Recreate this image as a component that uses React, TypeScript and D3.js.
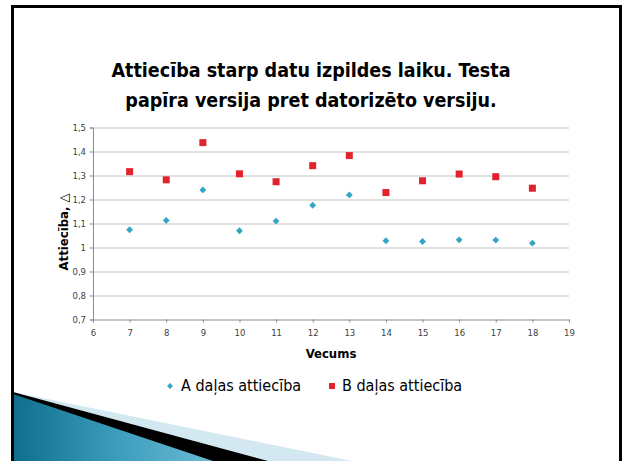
import React, { useEffect, useRef } from 'react';
import * as d3 from 'd3';

// age groups (x) and the two ratio series
const ages = [7, 8, 9, 10, 11, 12, 13, 14, 15, 16, 17, 18];
const seriesA = [1.074, 1.113, 1.24, 1.07, 1.11, 1.176, 1.219, 1.028, 1.025, 1.032, 1.031, 1.018];
const seriesB = [1.316, 1.282, 1.437, 1.307, 1.274, 1.341, 1.383, 1.229, 1.278, 1.306, 1.295, 1.247];
const xTicks = [6, 7, 8, 9, 10, 11, 12, 13, 14, 15, 16, 17, 18, 19];
const yTicks = [0.7, 0.8, 0.9, 1.0, 1.1, 1.2, 1.3, 1.4, 1.5];
const titleLines = ['Attiecība starp datu izpildes laiku. Testa', 'papīra versija pret datorizēto versiju.'];
const legendLabels = ['A daļas attiecība', 'B daļas attiecība'];

const W = 622;
const H = 461;
const margin = { top: 127.5, right: 53, bottom: 141.5, left: 93 };
const blue = '#33a5c6';
const red = '#e2222c';
const font = '"DejaVu Sans Condensed", "DejaVu Sans", sans-serif';

const App: React.FC = () => {
  const svgRef = useRef<SVGSVGElement>(null);

  useEffect(() => {
    if (!svgRef.current) return;
    const svg = d3.select(svgRef.current);
    svg.selectAll('*').remove();

    const innerW = W - margin.left - margin.right;
    const innerH = H - margin.top - margin.bottom;

    svg.append('rect').attr('width', W).attr('height', H).attr('fill', '#fff');

    // bottom-left slide decoration
    const defs = svg.append('defs');
    const grad = defs.append('linearGradient').attr('id', 'teal').attr('x1', '0').attr('x2', '1').attr('y1', '0').attr('y2', '0');
    grad.append('stop').attr('offset', '0%').attr('stop-color', '#0e6f8c');
    grad.append('stop').attr('offset', '55%').attr('stop-color', '#3f9fbe');
    grad.append('stop').attr('offset', '100%').attr('stop-color', '#6cbad3');
    const apex: [number, number] = [13, 392];
    svg.append('polygon').attr('points', [apex, [352, H], [13, H]].join(' ')).attr('fill', '#d3e8f0');
    svg.append('polygon').attr('points', [apex, [268, H], [13, H]].join(' ')).attr('fill', '#000');
    svg.append('polygon').attr('points', [[13, 394], [213, H], [13, H]].join(' ')).attr('fill', 'url(#teal)');

    // slide frame
    svg.append('path')
      .attr('d', `M12.5,${H} V6.5 H620.5 V${H}`)
      .attr('fill', 'none')
      .attr('stroke', '#000')
      .attr('stroke-width', 3);

    // title
    const title = svg.append('text')
      .attr('text-anchor', 'middle')
      .attr('font-family', font)
      .attr('font-weight', 'bold')
      .attr('font-size', 19.5)
      .attr('fill', '#000');
    titleLines.forEach((t, i) => {
      title.append('tspan').attr('x', 311).attr('y', 77 + i * 30).text(t);
    });

    const x = d3.scaleLinear().domain([6, 19]).range([0, innerW]);
    const y = d3.scaleLinear().domain([0.7, 1.5]).range([innerH, 0]);
    const fmt = (v: number) => (Math.abs(v - 1) < 1e-9 ? '1' : d3.format('.1f')(v).replace('.', ','));

    const g = svg.append('g').attr('transform', `translate(${margin.left},${margin.top})`);

    // gridlines
    g.append('g')
      .selectAll('line')
      .data(yTicks.slice(1))
      .enter()
      .append('line')
      .attr('x1', 0)
      .attr('x2', innerW)
      .attr('y1', d => Math.round(y(d)) + 0.5)
      .attr('y2', d => Math.round(y(d)) + 0.5)
      .attr('stroke', '#c4c4c4')
      .attr('stroke-width', 1);

    // axes
    const xAxis = g.append('g')
      .attr('transform', `translate(0,${innerH})`)
      .call(d3.axisBottom(x).tickValues(xTicks).tickSize(3).tickFormat(d => String(d)));
    const yAxis = g.append('g')
      .call(d3.axisLeft(y).tickValues(yTicks).tickSize(3).tickFormat(d => fmt(d as number)));
    [xAxis, yAxis].forEach(a => {
      a.select('.domain').attr('stroke', '#8c8c8c');
      a.selectAll('.tick line').attr('stroke', '#8c8c8c');
      a.selectAll('.tick text').attr('fill', '#404040').attr('font-family', '"DejaVu Sans", sans-serif').attr('font-size', 8.5);
    });
    xAxis.selectAll('.tick text').attr('dy', '1.2em');
    yAxis.selectAll('.tick text').attr('x', -7);

    // series B: squares
    g.selectAll('rect.b')
      .data(ages)
      .enter()
      .append('rect')
      .attr('class', 'b')
      .attr('x', (d) => x(d) - 3.5)
      .attr('y', (d, i) => y(seriesB[i]) - 3.5)
      .attr('width', 7)
      .attr('height', 7)
      .attr('fill', red);

    // series A: diamonds
    const diamond = d3.symbol().type(d3.symbolDiamond2).size(30);
    g.selectAll('path.a')
      .data(ages)
      .enter()
      .append('path')
      .attr('class', 'a')
      .attr('d', diamond)
      .attr('transform', (d, i) => `translate(${x(d)},${y(seriesA[i])})`)
      .attr('fill', blue);

    // axis titles
    svg.append('text')
      .attr('x', margin.left + innerW / 2)
      .attr('y', 358)
      .attr('text-anchor', 'middle')
      .attr('font-family', font)
      .attr('font-weight', 'bold')
      .attr('font-size', 13)
      .text('Vecums');

    const yt = svg.append('text')
      .attr('transform', `translate(68,232) rotate(-90)`)
      .attr('text-anchor', 'middle')
      .attr('font-family', font)
      .attr('font-weight', 'bold')
      .attr('font-size', 13);
    yt.append('tspan').text('Attiecība, ');
    yt.append('tspan').attr('font-weight', 'normal').text('△');

    // legend
    const lg = svg.append('g').attr('font-family', font).attr('font-size', 16);
    lg.append('path')
      .attr('d', d3.symbol().type(d3.symbolDiamond2).size(22))
      .attr('transform', 'translate(170,386)')
      .attr('fill', blue);
    lg.append('text').attr('x', 181).attr('y', 391).text(legendLabels[0]);
    lg.append('rect').attr('x', 329).attr('y', 383).attr('width', 6).attr('height', 6).attr('fill', red);
    lg.append('text').attr('x', 342).attr('y', 391).text(legendLabels[1]);
  }, []);

  return (
    <svg
      ref={svgRef}
      width={W}
      height={H}
      style={{ position: 'absolute', left: 0, top: 0, display: 'block' }}
    />
  );
};

export default App;
